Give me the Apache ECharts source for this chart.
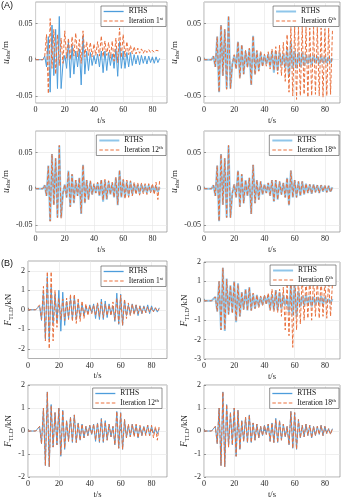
<!DOCTYPE html>
<html>
<head>
<meta charset="utf-8">
<script src="https://cdn.jsdelivr.net/npm/echarts@6/dist/echarts.min.js"></script>
<style>
html, body { margin: 0; padding: 0; background: #fff; }
#chart { width: 346px; height: 500px; }
</style>
</head>
<body>
<div id="chart"></div>
<script>
// Sample times (s) shared by every record
const tSec = [0, 5, 6.25, 7.5, 8.75, 10, 11.25, 12.5, 13.75, 15, 16.25, 17.5, 18.75, 20, 21.25, 22.5, 23.75, 25, 26.25, 27.5, 28.75, 30, 31.25, 32.5, 33.75, 35, 36.25, 37.5, 38.75, 40, 41.25, 42.5, 43.75, 45, 46.25, 47.5, 48.75, 50, 51.25, 52.5, 53.75, 55, 56.25, 57.5, 58.75, 60, 61.25, 62.5, 63.75, 65, 66.25, 67.5, 68.75, 70, 71.25, 72.5, 73.75, 75, 76.25, 77.5, 78.75, 80, 81.25, 82.5, 83.75, 85];

// (A) absolute displacement u_abs (m)
const rthsU = [0, 0, 0.005, -0.01, 0.032, -0.045, 0.048, -0.022, 0.042, -0.04, 0.06, -0.04, -0.006, 0.006, -0.012, 0.025, -0.025, 0.02, -0.02, 0.012, -0.01, 0.015, -0.035, 0.033, -0.02, 0.012, -0.015, 0.01, -0.008, 0.006, -0.006, 0.008, -0.01, 0.012, -0.018, 0.012, -0.015, 0.01, -0.008, 0.008, -0.012, 0.015, -0.023, 0.025, -0.012, 0.012, -0.012, 0.01, -0.01, 0.01, -0.008, 0.007, -0.006, 0.006, -0.007, 0.006, -0.005, 0.005, -0.006, 0.005, -0.004, 0.004, -0.005, 0.004, -0.004, 0.002];
const iter1U = [0, 0, 0.004, 0.035, -0.047, 0.057, -0.012, 0.042, -0.02, 0.035, -0.008, 0.03, -0.005, 0.04, 0.002, 0.03, 0.0, 0.032, 0.005, 0.037, 0.004, 0.028, -0.005, 0.04, 0.004, 0.025, 0.006, 0.024, 0.004, 0.022, 0.006, 0.025, 0.005, 0.033, 0.004, 0.026, 0.006, 0.024, 0.002, 0.026, -0.002, 0.03, -0.004, 0.044, 0.003, 0.035, 0.004, 0.025, 0.007, 0.02, 0.008, 0.018, 0.008, 0.016, 0.009, 0.015, 0.009, 0.014, 0.01, 0.014, 0.01, 0.013, 0.01, 0.013, 0.011, 0.012];
const iter6U = [0, 0, 0.005, -0.01, 0.032, -0.045, 0.048, -0.022, 0.042, -0.041, 0.061, -0.04, -0.006, 0.007, -0.013, 0.025, -0.026, 0.021, -0.02, 0.013, -0.011, 0.016, -0.035, 0.033, -0.021, 0.013, -0.016, 0.012, -0.01, 0.008, -0.009, 0.011, -0.013, 0.015, -0.015, 0.018, -0.02, 0.02, -0.022, 0.024, -0.03, 0.035, -0.045, 0.045, -0.05, 0.046, -0.055, 0.045, -0.05, 0.046, -0.048, 0.045, -0.052, 0.044, -0.05, 0.045, -0.048, 0.045, -0.05, 0.044, -0.052, 0.043, -0.05, 0.044, -0.048, 0.04];
const iter12U = [0, 0, 0.005, -0.01, 0.031, -0.045, 0.048, -0.023, 0.042, -0.04, 0.06, -0.041, -0.006, 0.006, -0.012, 0.024, -0.025, 0.02, -0.019, 0.012, -0.01, 0.015, -0.034, 0.033, -0.02, 0.012, -0.015, 0.011, -0.008, 0.007, -0.006, 0.009, -0.01, 0.013, -0.016, 0.013, -0.014, 0.011, -0.008, 0.009, -0.012, 0.016, -0.022, 0.026, -0.012, 0.013, -0.014, 0.012, -0.012, 0.011, -0.01, 0.009, -0.008, 0.008, -0.009, 0.008, -0.007, 0.007, -0.008, 0.007, -0.006, 0.007, -0.008, 0.009, -0.015, 0.012];
const iter18U = [0, 0, 0.005, -0.01, 0.032, -0.045, 0.048, -0.022, 0.042, -0.04, 0.06, -0.04, -0.006, 0.006, -0.012, 0.025, -0.025, 0.02, -0.02, 0.012, -0.01, 0.015, -0.035, 0.033, -0.02, 0.012, -0.015, 0.01, -0.008, 0.006, -0.006, 0.008, -0.01, 0.012, -0.017, 0.012, -0.015, 0.01, -0.008, 0.008, -0.012, 0.015, -0.023, 0.025, -0.012, 0.012, -0.012, 0.01, -0.01, 0.01, -0.008, 0.007, -0.006, 0.006, -0.007, 0.006, -0.005, 0.005, -0.006, 0.005, -0.004, 0.005, -0.005, 0.004, -0.005, 0.003];

// (B) TLD control force F_TLD (kN)
const rthsF = [0, 0, -0.05, 0.2, -0.55, 1.0, -1.5, 1.7, -1.55, 1.15, -0.7, 0.8, -0.6, 1.0, -1.1, 0.9, -0.8, 0.45, -0.45, 0.6, -0.5, 0.7, -0.5, 0.35, -0.4, 0.3, -0.3, 0.2, -0.2, 0.25, -0.15, 0.3, -0.45, 0.35, -0.5, 0.55, -0.5, 0.45, -0.4, 0.3, -0.25, 0.2, -0.6, 0.85, -0.75, 0.8, -0.8, 0.5, -0.3, 0.25, -0.25, 0.3, -0.2, 0.25, -0.3, 0.2, -0.2, 0.2, -0.15, 0.25, -0.2, 0.2, -0.1, 0.1, -0.12, 0.1];
const iter1F = [0, 0, 0, 0.25, -0.5, 1.2, -1.6, 1.95, -2.0, 1.95, -1.6, 1.0, -0.9, 0.6, -0.5, 0.55, -0.55, 0.6, -0.5, 0.8, -0.6, 0.8, -0.7, 0.6, -0.6, 0.45, -0.45, 0.3, -0.3, 0.2, -0.2, 0.25, -0.3, 0.35, -0.35, 0.4, -0.4, 0.3, -0.3, 0.25, -0.3, 0.4, -0.55, 0.6, -0.7, 0.75, -0.8, 0.55, -0.45, 0.35, -0.3, 0.3, -0.25, 0.25, -0.2, 0.2, -0.2, 0.15, -0.15, 0.15, -0.12, 0.12, -0.1, 0.1, -0.08, 0.05];
const iter6F = [0, 0, -0.05, 0.2, -0.55, 1.0, -1.5, 1.7, -1.5, 1.1, -0.7, 0.8, -0.65, 1.0, -1.05, 0.85, -0.8, 0.45, -0.45, 0.6, -0.5, 0.7, -0.5, 0.4, -0.4, 0.3, -0.35, 0.25, -0.25, 0.3, -0.2, 0.4, -0.5, 0.6, -0.55, 0.55, -0.6, 0.6, -0.8, 0.7, -1.5, 0.9, -1.8, 1.0, -2.4, 1.8, -1.5, 1.2, -1.2, 1.3, -1.0, 1.2, -0.9, 1.25, -1.0, 1.2, -0.8, 1.1, -0.9, 1.2, -0.8, 1.1, -0.9, 1.1, -0.8, 0.9];
const iter12F = [0, 0, -0.05, 0.2, -0.55, 1.0, -1.5, 1.7, -1.55, 1.1, -0.7, 0.8, -0.6, 1.0, -1.05, 0.9, -0.75, 0.45, -0.45, 0.6, -0.45, 0.7, -0.5, 0.35, -0.4, 0.3, -0.3, 0.2, -0.2, 0.25, -0.15, 0.3, -0.4, 0.35, -0.45, 0.5, -0.45, 0.4, -0.4, 0.3, -0.25, 0.2, -0.6, 0.85, -0.75, 0.8, -0.8, 0.5, -0.3, 0.3, -0.25, 0.3, -0.25, 0.3, -0.3, 0.25, -0.2, 0.2, -0.2, 0.25, -0.2, 0.25, -0.3, 0.2, -0.4, 0.25];
const iter18F = [0, 0, -0.05, 0.2, -0.55, 1.0, -1.5, 1.7, -1.55, 1.15, -0.7, 0.8, -0.6, 1.0, -1.1, 0.9, -0.8, 0.45, -0.45, 0.6, -0.5, 0.7, -0.5, 0.35, -0.4, 0.3, -0.3, 0.2, -0.2, 0.25, -0.15, 0.3, -0.45, 0.35, -0.5, 0.5, -0.5, 0.45, -0.4, 0.3, -0.25, 0.2, -0.6, 0.85, -0.75, 0.8, -0.8, 0.5, -0.3, 0.25, -0.25, 0.3, -0.2, 0.25, -0.3, 0.2, -0.2, 0.2, -0.15, 0.25, -0.2, 0.2, -0.12, 0.1, -0.15, 0.1];

// Tick values and legend labels
const xTicks = [0, 20, 40, 60, 80];
const uTicks = [-0.05, 0, 0.05];
const fTicksWide = [-2, -1, 0, 1, 2];
const fTicksLow = [-3, -2, -1, 0, 1, 2];
const iterNo = ['1', '6', '12', '18'];
const iterSup = ['st', 'th', 'th', 'th'];

const serif = '"Liberation Serif", "Times New Roman", serif';
const inkColor = '#262626';
const blueThin = '#4d9ddb';
const blueThick = '#8fc6ea';
const orange = '#e9703d';

// Panel layout: 4 displacement panels then 4 force panels
const panels = [
  { left: 29,  top: 2,   w: 138, h: 101, yr: [-0.06, 0.08], yt: uTicks, rths: rthsU, iter: iter1U,  n: 0, thick: false, lgR: 180, lgT: 6,   qty: 'u' },
  { left: 204, top: 2,   w: 136, h: 101, yr: [-0.06, 0.08], yt: uTicks, rths: rthsU, iter: iter6U,  n: 1, thick: true,  lgR: 7,   lgT: 6,   qty: 'u' },
  { left: 29,  top: 131, w: 138, h: 101, yr: [-0.06, 0.08], yt: uTicks, rths: rthsU, iter: iter12U, n: 2, thick: true,  lgR: 180, lgT: 135, qty: 'u' },
  { left: 204, top: 131, w: 136, h: 101, yr: [-0.06, 0.08], yt: uTicks, rths: rthsU, iter: iter18U, n: 3, thick: true,  lgR: 7,   lgT: 135, qty: 'u' },
  { left: 28,  top: 261, w: 139, h: 97.5, yr: [-2.5, 2.5],  yt: fTicksWide, rths: rthsF, iter: iter1F,  n: 0, thick: false, lgR: 180, lgT: 266, qty: 'F' },
  { left: 204, top: 262, w: 136, h: 97,  yr: [-3, 2],      yt: fTicksLow,  rths: rthsF, iter: iter6F,  n: 1, thick: true,  lgR: 10,  lgT: 265, qty: 'F' },
  { left: 28,  top: 385, w: 139, h: 96,  yr: [-2, 2],      yt: fTicksWide, rths: rthsF, iter: iter12F, n: 2, thick: false, lgR: 184, lgT: 388, qty: 'F' },
  { left: 204, top: 385, w: 136, h: 96,  yr: [-2, 2],      yt: fTicksWide, rths: rthsF, iter: iter18F, n: 3, thick: false, lgR: 7,   lgT: 388, qty: 'F' }
];

const pairs = vals => tSec.map((t, i) => [t, vals[i]]);

const grids = [], xAxes = [], yAxes = [], series = [], legends = [];
const legendLabel = {};

panels.forEach((p, k) => {
  grids.push({
    left: p.left, top: p.top, width: p.w, height: p.h,
    show: true, borderColor: '#7a7a7a', borderWidth: 0.6, backgroundColor: '#fff'
  });
  xAxes.push({
    gridIndex: k, type: 'value', min: 0, max: 90,
    axisLine: { show: false },
    axisTick: { show: true, inside: true, length: 2, customValues: xTicks, lineStyle: { color: '#555', width: 0.6 } },
    axisLabel: { customValues: xTicks, fontFamily: serif, fontSize: 8, color: inkColor, margin: 3 },
    splitLine: { show: true, customValues: xTicks, lineStyle: { color: '#e4e4e4', width: 0.6 } },
    name: 't/s', nameLocation: 'middle', nameGap: 13,
    nameTextStyle: { fontFamily: serif, fontSize: 8.5, color: inkColor }
  });
  const yName = p.qty === 'u' ? '{i|u}{s|abs}{n|/m}' : '{i|F}{s|TLD}{n|/kN}';
  yAxes.push({
    gridIndex: k, type: 'value', min: p.yr[0], max: p.yr[1],
    axisLine: { show: false },
    axisTick: { show: true, inside: true, length: 2, customValues: p.yt, lineStyle: { color: '#555', width: 0.6 } },
    axisLabel: { customValues: p.yt, fontFamily: serif, fontSize: 8, color: inkColor, margin: 3 },
    splitLine: { show: true, customValues: p.yt, lineStyle: { color: '#e4e4e4', width: 0.6 } },
    name: yName, nameLocation: 'middle', nameRotate: 90, nameGap: p.qty === 'u' ? 17 : 12,
    nameTextStyle: {
      fontFamily: serif, color: inkColor,
      rich: {
        i: { fontFamily: serif, fontStyle: 'italic', fontSize: 9.5, lineHeight: 12, color: inkColor },
        s: { fontFamily: serif, fontSize: 6.5, verticalAlign: 'bottom', color: inkColor },
        n: { fontFamily: serif, fontSize: 9, lineHeight: 12, color: inkColor }
      }
    }
  });

  const nameR = 'RTHS ' + k;
  const nameI = 'Iteration ' + iterNo[p.n] + iterSup[p.n] + ' ' + k;
  legendLabel[nameR] = '{t|RTHS}';
  legendLabel[nameI] = '{t|Iteration ' + iterNo[p.n] + '}{sup|' + iterSup[p.n] + '}';

  const blue = p.thick ? blueThick : blueThin;
  const blueWidth = p.thick ? 2 : 1;
  series.push({
    name: nameR, type: 'line', xAxisIndex: k, yAxisIndex: k,
    data: pairs(p.rths), symbol: 'none', silent: true, z: 2,
    itemStyle: { color: blue },
    lineStyle: { color: blue, width: blueWidth }
  });
  series.push({
    name: nameI, type: 'line', xAxisIndex: k, yAxisIndex: k,
    data: pairs(p.iter), symbol: 'none', silent: true, z: 3,
    itemStyle: { color: orange },
    lineStyle: { color: orange, width: 1, type: [3.5, 2] }
  });

  legends.push({
    data: [
      { name: nameR, lineStyle: { color: blue, width: p.thick ? 2 : 1.3, type: 'solid' } },
      { name: nameI, lineStyle: { color: orange, width: 1.1, type: [3.5, 2] } }
    ],
    orient: 'vertical', right: p.lgR, top: p.lgT,
    itemWidth: 20, itemHeight: 6, itemGap: 1, padding: [1.5, 3, 1.5, 2],
    backgroundColor: '#fff', borderColor: '#4a4a4a', borderWidth: 0.6, borderRadius: 0,
    selectedMode: false,
    itemStyle: { opacity: 0, borderWidth: 0 },
    formatter: name => legendLabel[name],
    textStyle: {
      fontFamily: serif, fontSize: 7.5, color: '#111',
      rich: {
        t: { fontFamily: serif, fontSize: 7.5, lineHeight: 9, color: '#111' },
        sup: { fontFamily: serif, fontSize: 5, verticalAlign: 'top', color: '#111' }
      }
    }
  });
});

const chart = echarts.init(document.getElementById('chart'), null, { renderer: 'canvas' });
chart.setOption({
  animation: false,
  backgroundColor: '#fff',
  title: [
    { text: '(A)', left: 1, top: 1, padding: 0, textStyle: { fontFamily: '"Liberation Sans", Arial, sans-serif', fontSize: 9, fontWeight: 'normal', color: '#111' } },
    { text: '(B)', left: 1, top: 259, padding: 0, textStyle: { fontFamily: '"Liberation Sans", Arial, sans-serif', fontSize: 9, fontWeight: 'normal', color: '#111' } }
  ],
  grid: grids,
  xAxis: xAxes,
  yAxis: yAxes,
  legend: legends,
  series: series
});
</script>
</body>
</html>
